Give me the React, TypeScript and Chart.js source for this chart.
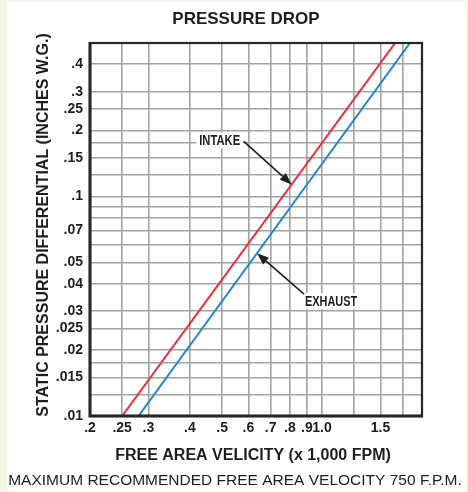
import React, { useEffect, useRef } from 'react';
import { Chart, registerables } from 'chart.js';

Chart.register(...registerables);

// ---- data ----
const intakeVelocity = [0.25, 1.66];
const intakePressure = [0.01, 0.5];
const exhaustVelocity = [0.28, 1.84];
const exhaustPressure = [0.01, 0.5];

const xGridValues = [0.2, 0.25, 0.3, 0.4, 0.5, 0.6, 0.7, 0.8, 0.9, 1.0, 1.25, 1.5, 1.75, 2.0];
const xTickLabels = ['.2', '.25', '.3', '.4', '.5', '.6', '.7', '.8', '.9', '1.0', '', '1.5', '', ''];
const yGridValues = [
  0.01, 0.0125, 0.015, 0.0175, 0.02, 0.025, 0.03, 0.04, 0.05, 0.06, 0.07, 0.08, 0.09,
  0.1, 0.125, 0.15, 0.175, 0.2, 0.25, 0.3, 0.4, 0.5,
];
const yTickLabels = [
  '.01', '', '.015', '', '.02', '.025', '.03', '.04', '.05', '', '.07', '', '',
  '.1', '', '.15', '', '.2', '.25', '.3', '.4', '',
];

const titleText = 'PRESSURE DROP';
const xTitleText = 'FREE AREA VELICITY (x 1,000 FPM)';
const yTitleText = 'STATIC PRESSURE DIFFERENTIAL (INCHES W.G.)';
const noteText = 'MAXIMUM RECOMMENDED FREE AREA VELOCITY 750 F.P.M.';
const intakeLabel = 'INTAKE';
const exhaustLabel = 'EXHAUST';
const intakeArrowAt = 0.81; // velocity where the INTAKE arrow meets its line
const exhaustArrowAt = 0.637; // velocity where the EXHAUST arrow meets its line

const NARROW = "'Liberation Sans Narrow', 'Arial Narrow', 'Liberation Sans', Arial, sans-serif";
const SANS = "'Liberation Sans', Arial, Helvetica, sans-serif";
const INK = '#1e1e1e';

function toPoints(xs: number[], ys: number[]) {
  return xs.map((x, i) => ({ x, y: ys[i] }));
}

function valueOnLine(xs: number[], ys: number[], v: number) {
  const lx0 = Math.log10(xs[0]);
  const lx1 = Math.log10(xs[1]);
  const ly0 = Math.log10(ys[0]);
  const ly1 = Math.log10(ys[1]);
  const t = (Math.log10(v) - lx0) / (lx1 - lx0);
  return Math.pow(10, ly0 + t * (ly1 - ly0));
}

function drawArrow(ctx: CanvasRenderingContext2D, x0: number, y0: number, x1: number, y1: number) {
  const ang = Math.atan2(y1 - y0, x1 - x0);
  const headLen = 12;
  const headW = 4.5;
  const bx = x1 - headLen * Math.cos(ang);
  const by = y1 - headLen * Math.sin(ang);
  ctx.save();
  ctx.strokeStyle = INK;
  ctx.fillStyle = INK;
  ctx.lineWidth = 1.6;
  ctx.beginPath();
  ctx.moveTo(x0, y0);
  ctx.lineTo(bx, by);
  ctx.stroke();
  ctx.beginPath();
  ctx.moveTo(x1, y1);
  ctx.lineTo(bx + headW * Math.sin(ang), by - headW * Math.cos(ang));
  ctx.lineTo(bx - headW * Math.sin(ang), by + headW * Math.cos(ang));
  ctx.closePath();
  ctx.fill();
  ctx.restore();
}

function drawLabel(ctx: CanvasRenderingContext2D, text: string, cx: number, cy: number, font: string, squeeze: number) {
  ctx.save();
  ctx.font = font;
  const w = ctx.measureText(text).width * squeeze;
  ctx.fillStyle = '#ffffff';
  ctx.fillRect(cx - w / 2 - 3, cy - 8, w + 6, 16);
  ctx.translate(cx, cy + 0.5);
  ctx.scale(squeeze, 1);
  ctx.fillStyle = INK;
  ctx.textAlign = 'center';
  ctx.textBaseline = 'middle';
  ctx.fillText(text, 0, 0);
  ctx.restore();
}

const decorPlugin = {
  id: 'decor',
  beforeDraw(chart: any) {
    const { ctx, width, height } = chart;
    ctx.save();
    ctx.fillStyle = '#f2f7e3';
    ctx.fillRect(0, 0, width, height);
    ctx.fillStyle = '#ffffff';
    ctx.fillRect(7, 2, width - 9, height - 2);
    ctx.restore();
  },
  afterDraw(chart: any) {
    const { ctx, chartArea } = chart;
    const { left, right, top, bottom } = chartArea;
    const xs = chart.scales.x;
    const ys = chart.scales.y;

    // frame
    ctx.save();
    ctx.strokeStyle = '#262626';
    ctx.lineWidth = 2.2;
    ctx.strokeRect(left, top, right - left, bottom - top);
    ctx.lineWidth = 3;
    ctx.beginPath();
    ctx.moveTo(left, top - 1);
    ctx.lineTo(left, bottom);
    ctx.lineTo(right + 1, bottom);
    ctx.stroke();
    ctx.restore();

    // annotations
    const ix = xs.getPixelForValue(intakeArrowAt);
    const iy = ys.getPixelForValue(valueOnLine(intakeVelocity, intakePressure, intakeArrowAt));
    drawLabel(ctx, intakeLabel, ix - 72, iy - 44, `bold 14px ${SANS}`, 0.8);
    drawArrow(ctx, ix - 48, iy - 43, ix, iy);

    const ex = xs.getPixelForValue(exhaustArrowAt);
    const ey = ys.getPixelForValue(valueOnLine(exhaustVelocity, exhaustPressure, exhaustArrowAt));
    drawLabel(ctx, exhaustLabel, ex + 74, ey + 48, `bold 14px ${SANS}`, 0.78);
    drawArrow(ctx, ex + 47, ey + 41, ex, ey);

    // texts
    ctx.save();
    ctx.fillStyle = INK;
    ctx.textAlign = 'center';
    ctx.textBaseline = 'middle';
    ctx.font = `bold 17px ${SANS}`;
    ctx.fillText(titleText, 246, 19);
    ctx.font = `bold 16px ${SANS}`;
    ctx.fillText(xTitleText, (left + right) / 2 - 3, 456);
    ctx.save();
    ctx.translate(44, 225);
    ctx.rotate(-Math.PI / 2);
    ctx.fillText(yTitleText, 0, 0);
    ctx.restore();
    ctx.font = `15.5px ${SANS}`;
    ctx.fillText(noteText, 235, 481);
    ctx.restore();
  },
};

export default function App() {
  const canvasRef = useRef<HTMLCanvasElement | null>(null);

  useEffect(() => {
    if (!canvasRef.current) return;
    const tickFont = { family: NARROW, size: 14, weight: 'bold' as const };
    const chart = new Chart(canvasRef.current, {
      type: 'line',
      data: {
        datasets: [
          {
            label: intakeLabel,
            data: toPoints(intakeVelocity, intakePressure),
            borderColor: '#ee2b36',
            borderWidth: 2,
            pointRadius: 0,
            tension: 0,
          },
          {
            label: exhaustLabel,
            data: toPoints(exhaustVelocity, exhaustPressure),
            borderColor: '#1f86d3',
            borderWidth: 2,
            pointRadius: 0,
            tension: 0,
          },
        ],
      },
      options: {
        responsive: false,
        animation: false,
        devicePixelRatio: 1,
        layout: { padding: { top: 43, right: 46, left: 0, bottom: 0 } },
        plugins: {
          legend: { display: false },
          tooltip: { enabled: false },
          title: { display: false },
        },
        scales: {
          x: {
            type: 'logarithmic',
            min: 0.2,
            max: 2.0,
            afterBuildTicks: (s: any) => {
              s.ticks = xGridValues.map((v) => ({ value: v }));
            },
            afterFit: (s: any) => {
              s.height = 76;
            },
            ticks: {
              autoSkip: false,
              maxRotation: 0,
              minRotation: 0,
              padding: 4,
              color: INK,
              font: tickFont,
              callback: (_v: any, i: number) => xTickLabels[i],
            },
            grid: { color: '#a2a2a2', lineWidth: 1.6, drawTicks: false },
            border: { display: false },
          },
          y: {
            type: 'logarithmic',
            min: 0.01,
            max: 0.5,
            afterBuildTicks: (s: any) => {
              s.ticks = yGridValues.map((v) => ({ value: v }));
            },
            afterFit: (s: any) => {
              s.width = 90;
            },
            ticks: {
              autoSkip: false,
              padding: 7,
              color: INK,
              font: tickFont,
              callback: (_v: any, i: number) => yTickLabels[i],
            },
            grid: { color: '#a2a2a2', lineWidth: 1.6, drawTicks: false },
            border: { display: false },
          },
        },
      },
      plugins: [decorPlugin],
    });
    return () => chart.destroy();
  }, []);

  return (
    <div style={{ position: 'fixed', left: 0, top: 0, width: 468, height: 492, overflow: 'hidden' }}>
      <canvas ref={canvasRef} width={468} height={492} style={{ display: 'block' }} />
    </div>
  );
}
